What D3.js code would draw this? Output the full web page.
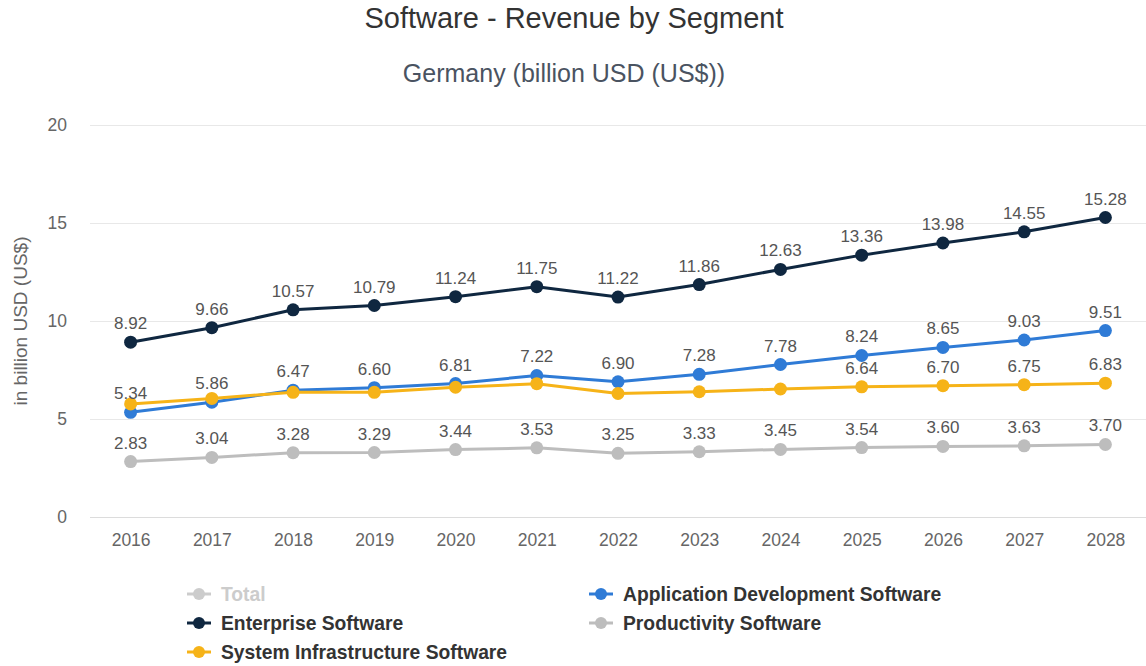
<!DOCTYPE html>
<html>
<head>
<meta charset="utf-8">
<script src="https://cdn.jsdelivr.net/npm/d3@7"></script>
<style>
  html, body { margin: 0; padding: 0; background: #fff; }
  svg { display: block; font-family: "Liberation Sans", Arial, Helvetica, sans-serif; }
</style>
</head>
<body>
<div id="chart"></div>
<script>
const years = ['2016', '2017', '2018', '2019', '2020', '2021', '2022', '2023', '2024', '2025', '2026', '2027', '2028'];
const yTicks = [0, 5, 10, 15, 20];

const total = [];
const applicationDevelopment = [5.34, 5.86, 6.47, 6.60, 6.81, 7.22, 6.90, 7.28, 7.78, 8.24, 8.65, 9.03, 9.51];
const enterprise = [8.92, 9.66, 10.57, 10.79, 11.24, 11.75, 11.22, 11.86, 12.63, 13.36, 13.98, 14.55, 15.28];
const productivity = [2.83, 3.04, 3.28, 3.29, 3.44, 3.53, 3.25, 3.33, 3.45, 3.54, 3.60, 3.63, 3.70];
const systemInfrastructure = [5.77, 6.05, 6.36, 6.36, 6.62, 6.80, 6.30, 6.39, 6.53, 6.64, 6.70, 6.75, 6.83];

// series in draw order (later series lose their labels when they collide)
const series = [
  { name: 'Total', values: total, color: '#cccccc', hidden: true },
  { name: 'Application Development Software', values: applicationDevelopment, color: '#2f7bd6' },
  { name: 'Enterprise Software', values: enterprise, color: '#0f2740' },
  { name: 'Productivity Software', values: productivity, color: '#bdbdbd' },
  { name: 'System Infrastructure Software', values: systemInfrastructure, color: '#f6b318' }
];

const width = 1146;
const height = 666;
const margin = { top: 125, right: 0, bottom: 149, left: 90 };

const svg = d3.select('#chart').append('svg')
  .attr('width', width)
  .attr('height', height);

svg.append('text')
  .attr('x', width / 2 + 1).attr('y', 28)
  .attr('text-anchor', 'middle')
  .attr('font-size', 29).attr('fill', '#333')
  .text('Software - Revenue by Segment');

svg.append('text')
  .attr('x', 564).attr('y', 82)
  .attr('text-anchor', 'middle')
  .attr('font-size', 25).attr('fill', '#4a5361')
  .text('Germany (billion USD (US$))');

const x = d3.scalePoint()
  .domain(years)
  .range([margin.left, width - margin.right])
  .padding(0.5);

const y = d3.scaleLinear()
  .domain([0, 20])
  .range([height - margin.bottom, margin.top]);

// grid
svg.append('g')
  .selectAll('line')
  .data(yTicks)
  .join('line')
  .attr('x1', margin.left).attr('x2', width)
  .attr('y1', (d) => Math.round(y(d)) + 0.5)
  .attr('y2', (d) => Math.round(y(d)) + 0.5)
  .attr('stroke', (d) => d === 0 ? '#dcdcdc' : '#e8e8e8')
  .attr('stroke-width', 1);

const yAxis = svg.append('g')
  .attr('transform', `translate(${margin.left - 23},0)`)
  .call(d3.axisLeft(y).tickValues(yTicks).tickSize(0).tickPadding(0));
yAxis.select('.domain').remove();
yAxis.selectAll('text')
  .attr('font-size', 17.5).attr('fill', '#666')
  .attr('font-family', '"Liberation Sans", Arial, sans-serif');

const xAxis = svg.append('g')
  .attr('transform', `translate(0,${y(0) + 17})`)
  .call(d3.axisBottom(x).tickSize(0).tickPadding(0));
xAxis.select('.domain').remove();
xAxis.selectAll('text')
  .attr('font-size', 17.5).attr('fill', '#666')
  .attr('font-family', '"Liberation Sans", Arial, sans-serif');

svg.append('text')
  .attr('transform', `translate(27,${(y(0) + y(20)) / 2}) rotate(-90)`)
  .attr('text-anchor', 'middle')
  .attr('font-size', 19).attr('fill', '#666')
  .text('in billion USD (US$)');

const line = d3.line()
  .x((d, i) => x(years[i]))
  .y((d) => y(d));

const visible = series.filter((s) => !s.hidden && s.values.length);

const plot = svg.append('g');
for (const s of visible) {
  plot.append('path')
    .datum(s.values)
    .attr('fill', 'none')
    .attr('stroke', s.color)
    .attr('stroke-width', 3)
    .attr('stroke-linejoin', 'round')
    .attr('d', line);
  plot.append('g')
    .selectAll('circle')
    .data(s.values)
    .join('circle')
    .attr('cx', (d, i) => x(years[i]))
    .attr('cy', (d) => y(d))
    .attr('r', 6.5)
    .attr('fill', s.color);
}

// data labels, skipping those that collide with one already placed
const placed = [];
const labelLayer = svg.append('g');
for (const s of visible) {
  s.values.forEach((v, i) => {
    const cx = x(years[i]);
    const cy = y(v) - 13;
    const box = { x0: cx - 24, x1: cx + 24, y0: cy - 19, y1: cy + 6 };
    const hit = placed.some((b) => b.x0 < box.x1 && box.x0 < b.x1 && b.y0 < box.y1 && box.y0 < b.y1);
    if (hit) return;
    placed.push(box);
    labelLayer.append('text')
      .attr('x', cx).attr('y', cy)
      .attr('text-anchor', 'middle')
      .attr('font-size', 17).attr('fill', '#555')
      .text(v.toFixed(2));
  });
}

// legend
const legendCols = [187, 589];
const legendRows = [594, 623, 652];
const legend = svg.append('g');
series.forEach((s, i) => {
  const lx = legendCols[i % 2];
  const ly = legendRows[Math.floor(i / 2)];
  const g = legend.append('g').attr('transform', `translate(${lx},${ly})`);
  g.append('line')
    .attr('x1', 0).attr('x2', 24)
    .attr('stroke', s.color).attr('stroke-width', 3);
  g.append('circle')
    .attr('cx', 12).attr('r', 6)
    .attr('fill', s.color);
  g.append('text')
    .attr('x', 34).attr('y', 7)
    .attr('font-size', 19.3).attr('font-weight', 'bold')
    .attr('fill', s.hidden ? '#cccccc' : '#333')
    .text(s.name);
});
</script>
</body>
</html>
